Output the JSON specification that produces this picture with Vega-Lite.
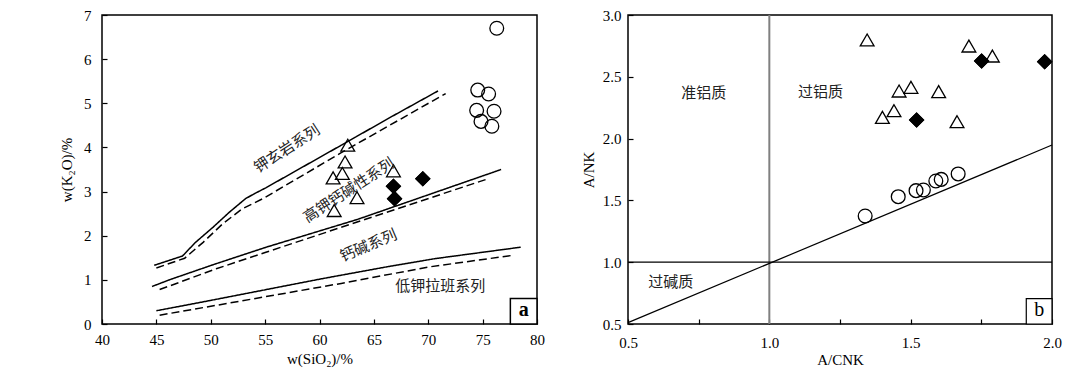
{
  "$schema": "https://vega.github.io/schema/vega-lite/v6.json",
  "background": "white",
  "padding": {"left": 58, "top": 7, "right": 5, "bottom": 0},
  "spacing": 91,
  "bounds": "flush",
  "config": {
    "view": {"stroke": "black", "strokeWidth": 1.5},
    "axis": {
      "grid": false, "domain": false, "ticks": true, "tickColor": "black", "tickSize": -5, "tickWidth": 1.2,
      "labelFont": "Liberation Serif", "labelFontSize": 15, "labelColor": "black",
      "titleFont": "Liberation Serif", "titleFontSize": 15, "titleFontWeight": "normal", "titleColor": "black",
      "labelOverlap": false, "labelFlush": false, "labelBound": false
    }
  },
  "resolve": {
    "scale": {"shape": "independent"},
    "legend": {"shape": "independent"}
  },
  "datasets": {
    "lines_a": [
      {"line": "K1s", "source": "solid", "i": 1, "x": 44.8, "y": 1.33},
      {"line": "K1s", "source": "solid", "i": 2, "x": 47.4, "y": 1.54},
      {"line": "K1s", "source": "solid", "i": 3, "x": 48.6, "y": 1.85},
      {"line": "K1s", "source": "solid", "i": 4, "x": 50.2, "y": 2.19},
      {"line": "K1s", "source": "solid", "i": 5, "x": 51.7, "y": 2.53},
      {"line": "K1s", "source": "solid", "i": 6, "x": 53.2, "y": 2.84},
      {"line": "K1s", "source": "solid", "i": 7, "x": 54.0, "y": 2.95},
      {"line": "K1s", "source": "solid", "i": 8, "x": 55.1, "y": 3.09},
      {"line": "K1s", "source": "solid", "i": 9, "x": 62.0, "y": 4.05},
      {"line": "K1s", "source": "solid", "i": 10, "x": 66.5, "y": 4.68},
      {"line": "K1s", "source": "solid", "i": 11, "x": 70.9, "y": 5.28},
      {"line": "K1d", "source": "dashed", "i": 1, "x": 45.0, "y": 1.27},
      {"line": "K1d", "source": "dashed", "i": 2, "x": 47.6, "y": 1.49},
      {"line": "K1d", "source": "dashed", "i": 3, "x": 49.3, "y": 1.85},
      {"line": "K1d", "source": "dashed", "i": 4, "x": 51.1, "y": 2.27},
      {"line": "K1d", "source": "dashed", "i": 5, "x": 52.9, "y": 2.61},
      {"line": "K1d", "source": "dashed", "i": 6, "x": 54.8, "y": 2.84},
      {"line": "K1d", "source": "dashed", "i": 7, "x": 62.0, "y": 3.88},
      {"line": "K1d", "source": "dashed", "i": 8, "x": 71.6, "y": 5.22},
      {"line": "K2s", "source": "solid", "i": 1, "x": 44.6, "y": 0.85},
      {"line": "K2s", "source": "solid", "i": 2, "x": 46.3, "y": 1.01},
      {"line": "K2s", "source": "solid", "i": 3, "x": 50.3, "y": 1.35},
      {"line": "K2s", "source": "solid", "i": 4, "x": 55.1, "y": 1.74},
      {"line": "K2s", "source": "solid", "i": 5, "x": 63.5, "y": 2.37},
      {"line": "K2s", "source": "solid", "i": 6, "x": 76.7, "y": 3.50},
      {"line": "K2d", "source": "dashed", "i": 1, "x": 45.3, "y": 0.78},
      {"line": "K2d", "source": "dashed", "i": 2, "x": 50.5, "y": 1.25},
      {"line": "K2d", "source": "dashed", "i": 3, "x": 55.0, "y": 1.62},
      {"line": "K2d", "source": "dashed", "i": 4, "x": 75.5, "y": 3.29},
      {"line": "K3s", "source": "solid", "i": 1, "x": 45.0, "y": 0.30},
      {"line": "K3s", "source": "solid", "i": 2, "x": 49.9, "y": 0.53},
      {"line": "K3s", "source": "solid", "i": 3, "x": 60.1, "y": 1.02},
      {"line": "K3s", "source": "solid", "i": 4, "x": 66.3, "y": 1.30},
      {"line": "K3s", "source": "solid", "i": 5, "x": 70.6, "y": 1.48},
      {"line": "K3s", "source": "solid", "i": 6, "x": 78.5, "y": 1.74},
      {"line": "K3d", "source": "dashed", "i": 1, "x": 45.3, "y": 0.20},
      {"line": "K3d", "source": "dashed", "i": 2, "x": 51.6, "y": 0.47},
      {"line": "K3d", "source": "dashed", "i": 3, "x": 62.0, "y": 0.92},
      {"line": "K3d", "source": "dashed", "i": 4, "x": 70.0, "y": 1.29},
      {"line": "K3d", "source": "dashed", "i": 5, "x": 77.6, "y": 1.55}
    ],
    "pts_a": [
      {"type": "花岗闪长岩", "x": 69.5, "y": 3.29},
      {"type": "花岗闪长岩", "x": 66.8, "y": 3.12},
      {"type": "花岗闪长岩", "x": 66.9, "y": 2.84},
      {"type": "二长花岗岩", "x": 76.3, "y": 6.70},
      {"type": "二长花岗岩", "x": 74.55, "y": 5.30},
      {"type": "二长花岗岩", "x": 75.55, "y": 5.21},
      {"type": "二长花岗岩", "x": 74.45, "y": 4.84},
      {"type": "二长花岗岩", "x": 76.05, "y": 4.82},
      {"type": "二长花岗岩", "x": 74.85, "y": 4.59},
      {"type": "二长花岗岩", "x": 75.85, "y": 4.48},
      {"type": "闪长玢岩", "x": 62.6, "y": 4.05},
      {"type": "闪长玢岩", "x": 62.35, "y": 3.67},
      {"type": "闪长玢岩", "x": 61.25, "y": 3.31},
      {"type": "闪长玢岩", "x": 62.1, "y": 3.41},
      {"type": "闪长玢岩", "x": 63.45, "y": 2.86},
      {"type": "闪长玢岩", "x": 61.35, "y": 2.57},
      {"type": "闪长玢岩", "x": 66.8, "y": 3.47}
    ],
    "labels_a": [
      {"text": "钾玄岩系列", "x": 57.0, "y": 3.97},
      {"text": "高钾钙碱性系列", "x": 62.7, "y": 3.03},
      {"text": "钙碱系列", "x": 64.5, "y": 1.78},
      {"text": "低钾拉班系列", "x": 71.1, "y": 0.85}
    ],
    "tag_a": [{"text": "a", "x": 77.55, "x2": 80, "y": 0, "y2": 0.58, "cx": 78.78, "cy": 0.29}],
    "lines_b": [
      {"kind": "A/CNK=1", "x": 1.0, "y": 0.5, "x2": 1.0, "y2": 3.0},
      {"kind": "A/NK=1", "x": 0.5, "y": 1.0, "x2": 2.0, "y2": 1.0},
      {"kind": "diag", "x": 0.5, "y": 0.511, "x2": 2.0, "y2": 1.948}
    ],
    "pts_b": [
      {"type": "闪长玢岩", "x": 1.346, "y": 2.798},
      {"type": "闪长玢岩", "x": 1.706, "y": 2.749},
      {"type": "闪长玢岩", "x": 1.789, "y": 2.668},
      {"type": "闪长玢岩", "x": 1.459, "y": 2.385},
      {"type": "闪长玢岩", "x": 1.501, "y": 2.415},
      {"type": "闪长玢岩", "x": 1.599, "y": 2.380},
      {"type": "闪长玢岩", "x": 1.400, "y": 2.172},
      {"type": "闪长玢岩", "x": 1.441, "y": 2.226},
      {"type": "闪长玢岩", "x": 1.664, "y": 2.137},
      {"type": "花岗闪长岩", "x": 1.751, "y": 2.628},
      {"type": "花岗闪长岩", "x": 1.974, "y": 2.622},
      {"type": "花岗闪长岩", "x": 1.521, "y": 2.150},
      {"type": "二长花岗岩", "x": 1.339, "y": 1.374},
      {"type": "二长花岗岩", "x": 1.456, "y": 1.530},
      {"type": "二长花岗岩", "x": 1.519, "y": 1.579},
      {"type": "二长花岗岩", "x": 1.545, "y": 1.584},
      {"type": "二长花岗岩", "x": 1.589, "y": 1.657},
      {"type": "二长花岗岩", "x": 1.608, "y": 1.670},
      {"type": "二长花岗岩", "x": 1.668, "y": 1.714}
    ],
    "labels_b": [
      {"text": "准铝质", "x": 0.768, "y": 2.366},
      {"text": "过铝质", "x": 1.181, "y": 2.380},
      {"text": "过碱质", "x": 0.651, "y": 0.842}
    ],
    "tag_b": [{"text": "b", "x": 1.909, "x2": 2.0, "y": 0.5, "y2": 0.706, "cx": 1.9545, "cy": 0.603}]
  },
  "hconcat": [
    {
      "width": 435,
      "height": 309,
      "layer": [
        {
          "data": {"name": "lines_a"},
          "mark": {"type": "line", "color": "black", "strokeWidth": 1.5},
          "encoding": {
            "x": {"field": "x", "type": "quantitative",
              "scale": {"domain": [40, 80], "nice": false, "zero": false},
              "axis": {"values": [40, 45, 50, 55, 60, 65, 70, 75, 80], "title": "w(SiO₂)/%", "labelPadding": 13, "titlePadding": 4}},
            "y": {"field": "y", "type": "quantitative",
              "scale": {"domain": [0, 7], "nice": false, "zero": false},
              "axis": {"values": [0, 0.5, 1, 1.5, 2, 2.5, 3, 3.5, 4, 4.5, 5, 5.5, 6, 6.5, 7],
                "labelExpr": "datum.value % 1 === 0 ? datum.label : ''",
                "title": "w(K₂O)/%", "labelPadding": 16, "titlePadding": 9}},
            "detail": {"field": "line", "type": "nominal"},
            "strokeDash": {"field": "source", "type": "nominal",
              "scale": {"domain": ["solid", "dashed"], "range": [[1, 0], [8, 4]]}, "legend": null},
            "order": {"field": "i", "type": "quantitative"}
          }
        },
        {
          "data": {"name": "pts_a"},
          "mark": {"type": "point", "filled": false, "color": "black", "strokeWidth": 1.3, "size": 190, "opacity": 1},
          "encoding": {
            "x": {"field": "x", "type": "quantitative"},
            "y": {"field": "y", "type": "quantitative"},
            "shape": {"field": "type", "type": "nominal",
              "scale": {"domain": ["花岗闪长岩", "二长花岗岩", "闪长玢岩"], "range": ["diamond", "circle", "triangle-up"]},
              "legend": null}
          }
        },
        {
          "data": {"name": "pts_a"},
          "transform": [{"filter": {"field": "type", "equal": "花岗闪长岩"}}],
          "mark": {"type": "point", "shape": "diamond", "filled": true, "color": "black", "strokeWidth": 1.3, "stroke": "black", "size": 190, "opacity": 1},
          "encoding": {
            "x": {"field": "x", "type": "quantitative"},
            "y": {"field": "y", "type": "quantitative"}
          }
        },
        {
          "mark": {"type": "point", "shape": "diamond", "filled": true, "color": "black", "stroke": "black", "strokeWidth": 1.3, "size": 190, "opacity": 1},
          "encoding": {"x": {"datum": 43.74, "type": "quantitative"}, "y": {"datum": 6.42, "type": "quantitative"}}
        },
        {
          "mark": {"type": "point", "shape": "circle", "filled": false, "color": "black", "strokeWidth": 1.3, "size": 190, "opacity": 1},
          "encoding": {"x": {"datum": 43.74, "type": "quantitative"}, "y": {"datum": 5.93, "type": "quantitative"}}
        },
        {
          "mark": {"type": "point", "shape": "triangle-up", "filled": false, "color": "black", "strokeWidth": 1.3, "size": 190, "opacity": 1},
          "encoding": {"x": {"datum": 43.74, "type": "quantitative"}, "y": {"datum": 5.45, "type": "quantitative"}}
        },
        {
          "mark": {"type": "text", "text": "花岗闪长岩", "font": "Noto Sans CJK SC", "fontSize": 15, "color": "#222", "align": "left", "baseline": "middle"},
          "encoding": {"x": {"datum": 45.36, "type": "quantitative"}, "y": {"datum": 6.42, "type": "quantitative"}}
        },
        {
          "mark": {"type": "text", "text": "二长花岗岩", "font": "Noto Sans CJK SC", "fontSize": 15, "color": "#222", "align": "left", "baseline": "middle"},
          "encoding": {"x": {"datum": 45.36, "type": "quantitative"}, "y": {"datum": 5.93, "type": "quantitative"}}
        },
        {
          "mark": {"type": "text", "text": "闪长玢岩", "font": "Noto Sans CJK SC", "fontSize": 15, "color": "#222", "align": "left", "baseline": "middle"},
          "encoding": {"x": {"datum": 45.36, "type": "quantitative"}, "y": {"datum": 5.45, "type": "quantitative"}}
        },
        {
          "data": {"name": "labels_a"},
          "transform": [{"filter": {"field": "text", "oneOf": ["钾玄岩系列", "高钾钙碱性系列"]}}],
          "mark": {"type": "text", "font": "Noto Sans CJK SC", "fontSize": 15, "angle": -33, "color": "#222", "align": "center", "baseline": "middle"},
          "encoding": {
            "x": {"field": "x", "type": "quantitative"},
            "y": {"field": "y", "type": "quantitative"},
            "text": {"field": "text"}
          }
        },
        {
          "data": {"name": "labels_a"},
          "transform": [{"filter": {"field": "text", "equal": "钙碱系列"}}],
          "mark": {"type": "text", "font": "Noto Sans CJK SC", "fontSize": 15, "angle": -23, "color": "#222", "align": "center", "baseline": "middle"},
          "encoding": {
            "x": {"field": "x", "type": "quantitative"},
            "y": {"field": "y", "type": "quantitative"},
            "text": {"field": "text"}
          }
        },
        {
          "data": {"name": "labels_a"},
          "transform": [{"filter": {"field": "text", "equal": "低钾拉班系列"}}],
          "mark": {"type": "text", "font": "Noto Sans CJK SC", "fontSize": 15, "color": "#222", "align": "center", "baseline": "middle"},
          "encoding": {
            "x": {"field": "x", "type": "quantitative"},
            "y": {"field": "y", "type": "quantitative"},
            "text": {"field": "text"}
          }
        },
        {
          "data": {"name": "tag_a"},
          "mark": {"type": "rect", "fill": "white", "stroke": "black", "strokeWidth": 1.5},
          "encoding": {
            "x": {"field": "x", "type": "quantitative"},
            "x2": {"field": "x2"},
            "y": {"field": "y", "type": "quantitative"},
            "y2": {"field": "y2"}
          }
        },
        {
          "data": {"name": "tag_a"},
          "mark": {"type": "text", "font": "Liberation Serif", "fontSize": 20, "fontWeight": "bold", "color": "black", "align": "center", "baseline": "middle", "dy": -1},
          "encoding": {
            "x": {"field": "cx", "type": "quantitative"},
            "y": {"field": "cy", "type": "quantitative"},
            "text": {"field": "text"}
          }
        }
      ]
    },
    {
      "width": 424,
      "height": 309,
      "layer": [
        {
          "data": {"name": "lines_b"},
          "transform": [{"filter": {"field": "kind", "equal": "A/CNK=1"}}],
          "mark": {"type": "rule", "color": "#808080", "strokeWidth": 2},
          "encoding": {
            "x": {"field": "x", "type": "quantitative",
              "scale": {"domain": [0.5, 2.0], "nice": false, "zero": false},
              "axis": {"values": [0.5, 0.75, 1, 1.25, 1.5, 1.75, 2],
                "labelExpr": "(datum.value * 2) % 1 === 0 ? format(datum.value, '.1f') : ''",
                "title": "A/CNK", "labelPadding": 16, "titlePadding": 2}},
            "y": {"field": "y", "type": "quantitative",
              "scale": {"domain": [0.5, 3.0], "nice": false, "zero": false},
              "axis": {"values": [0.5, 0.75, 1, 1.25, 1.5, 1.75, 2, 2.25, 2.5, 2.75, 3],
                "labelExpr": "(datum.value * 2) % 1 === 0 ? format(datum.value, '.1f') : ''",
                "title": "A/NK", "labelPadding": 12, "titlePadding": 6}},
            "x2": {"field": "x2"},
            "y2": {"field": "y2"}
          }
        },
        {
          "data": {"name": "lines_b"},
          "transform": [{"filter": {"field": "kind", "oneOf": ["A/NK=1", "diag"]}}],
          "mark": {"type": "rule", "color": "black", "strokeWidth": 1.2},
          "encoding": {
            "x": {"field": "x", "type": "quantitative"},
            "y": {"field": "y", "type": "quantitative"},
            "x2": {"field": "x2"},
            "y2": {"field": "y2"}
          }
        },
        {
          "data": {"name": "pts_b"},
          "mark": {"type": "point", "filled": false, "color": "black", "strokeWidth": 1.3, "size": 190, "opacity": 1},
          "encoding": {
            "x": {"field": "x", "type": "quantitative"},
            "y": {"field": "y", "type": "quantitative"},
            "shape": {"field": "type", "type": "nominal",
              "scale": {"domain": ["花岗闪长岩", "二长花岗岩", "闪长玢岩"], "range": ["diamond", "circle", "triangle-up"]},
              "legend": null}
          }
        },
        {
          "data": {"name": "pts_b"},
          "transform": [{"filter": {"field": "type", "equal": "花岗闪长岩"}}],
          "mark": {"type": "point", "shape": "diamond", "filled": true, "color": "black", "strokeWidth": 1.3, "stroke": "black", "size": 190, "opacity": 1},
          "encoding": {
            "x": {"field": "x", "type": "quantitative"},
            "y": {"field": "y", "type": "quantitative"}
          }
        },
        {
          "data": {"name": "labels_b"},
          "mark": {"type": "text", "font": "Noto Sans CJK SC", "fontSize": 15, "color": "#222", "align": "center", "baseline": "middle"},
          "encoding": {
            "x": {"field": "x", "type": "quantitative"},
            "y": {"field": "y", "type": "quantitative"},
            "text": {"field": "text"}
          }
        },
        {
          "data": {"name": "tag_b"},
          "mark": {"type": "rect", "fill": "white", "stroke": "black", "strokeWidth": 1.2},
          "encoding": {
            "x": {"field": "x", "type": "quantitative"},
            "x2": {"field": "x2"},
            "y": {"field": "y", "type": "quantitative"},
            "y2": {"field": "y2"}
          }
        },
        {
          "data": {"name": "tag_b"},
          "mark": {"type": "text", "font": "Liberation Serif", "fontSize": 20, "color": "black", "align": "center", "baseline": "middle", "dy": -1},
          "encoding": {
            "x": {"field": "cx", "type": "quantitative"},
            "y": {"field": "cy", "type": "quantitative"},
            "text": {"field": "text"}
          }
        }
      ]
    }
  ]
}
